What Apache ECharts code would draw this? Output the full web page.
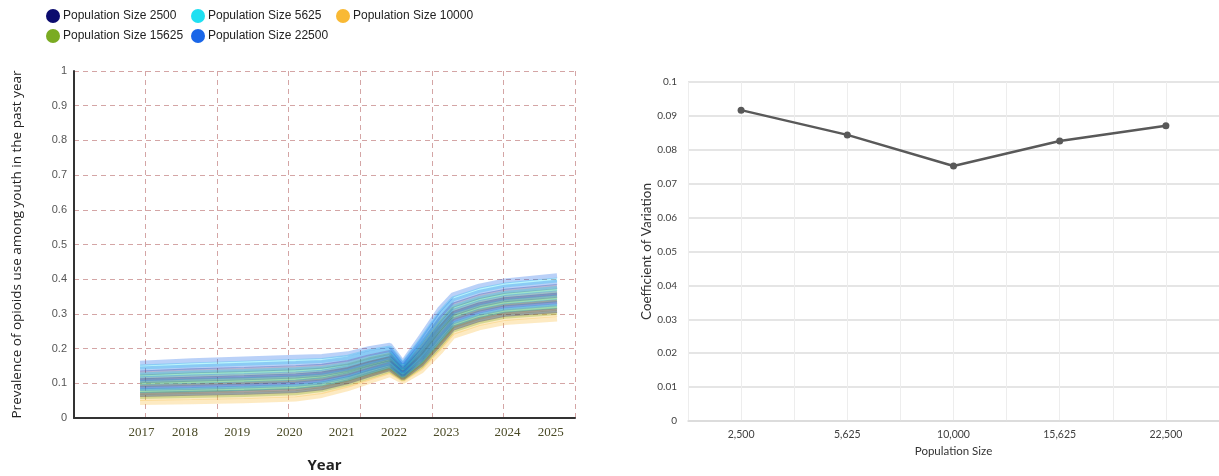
<!DOCTYPE html>
<html>
<head>
<meta charset="utf-8">
<script src="https://cdn.jsdelivr.net/npm/echarts@6/dist/echarts.min.js"></script>
<style>
html,body{margin:0;padding:0;background:#fff;}
#c{width:1219px;height:476px;}
</style>
</head>
<body>
<div id="c"></div>
<script>
// ---- Left chart: simulated prevalence runs ----
const times = [2017.14, 2018.13, 2019.13, 2020.12, 2020.62, 2021.12, 2021.52, 2021.92, 2022.17, 2022.52, 2022.88, 2023.13, 2023.63, 2024.12, 2025.12];
const yearLabelPos = [2017.17, 2018, 2019, 2020, 2021, 2022, 2023, 2024.17, 2025];
const yearLabels = ['2017','2018','2019','2020','2021','2022','2023','2024','2025'];

const runs10000 = [
  [0.104, 0.108, 0.112, 0.117, 0.123, 0.137, 0.155, 0.170, 0.134, 0.187, 0.256, 0.298, 0.323, 0.338, 0.351],
  [0.073, 0.077, 0.081, 0.085, 0.093, 0.110, 0.129, 0.146, 0.119, 0.160, 0.221, 0.265, 0.290, 0.305, 0.316],
  [0.056, 0.059, 0.062, 0.067, 0.076, 0.095, 0.115, 0.134, 0.111, 0.145, 0.203, 0.247, 0.272, 0.287, 0.298],
  [0.045, 0.047, 0.050, 0.055, 0.065, 0.085, 0.105, 0.125, 0.105, 0.135, 0.190, 0.235, 0.260, 0.275, 0.285]
];
const runs15625 = [
  [0.118, 0.124, 0.128, 0.133, 0.138, 0.150, 0.167, 0.180, 0.141, 0.200, 0.271, 0.313, 0.338, 0.353, 0.366],
  [0.096, 0.100, 0.104, 0.109, 0.115, 0.130, 0.148, 0.163, 0.130, 0.180, 0.246, 0.289, 0.314, 0.329, 0.341],
  [0.077, 0.080, 0.084, 0.089, 0.097, 0.113, 0.132, 0.149, 0.120, 0.163, 0.225, 0.268, 0.293, 0.308, 0.320],
  [0.062, 0.065, 0.068, 0.073, 0.082, 0.100, 0.119, 0.138, 0.113, 0.150, 0.209, 0.253, 0.278, 0.293, 0.304]
];
const runs2500 = [
  [0.130, 0.136, 0.140, 0.145, 0.149, 0.160, 0.176, 0.189, 0.146, 0.210, 0.284, 0.325, 0.350, 0.365, 0.379],
  [0.107, 0.112, 0.116, 0.121, 0.127, 0.140, 0.157, 0.172, 0.135, 0.190, 0.259, 0.301, 0.326, 0.341, 0.354],
  [0.090, 0.094, 0.098, 0.103, 0.110, 0.125, 0.143, 0.159, 0.127, 0.175, 0.240, 0.283, 0.308, 0.323, 0.335],
  [0.068, 0.071, 0.074, 0.079, 0.087, 0.105, 0.124, 0.142, 0.116, 0.155, 0.215, 0.259, 0.284, 0.299, 0.310]
];
const runs5625 = [
  [0.147, 0.153, 0.158, 0.163, 0.166, 0.175, 0.191, 0.202, 0.155, 0.225, 0.303, 0.343, 0.368, 0.383, 0.398],
  [0.124, 0.130, 0.134, 0.139, 0.143, 0.155, 0.172, 0.185, 0.144, 0.205, 0.278, 0.319, 0.344, 0.359, 0.373],
  [0.102, 0.106, 0.110, 0.115, 0.121, 0.135, 0.153, 0.168, 0.133, 0.185, 0.253, 0.295, 0.320, 0.335, 0.348],
  [0.079, 0.082, 0.086, 0.091, 0.099, 0.115, 0.134, 0.151, 0.122, 0.165, 0.228, 0.271, 0.296, 0.311, 0.323]
];
const runs22500 = [
  [0.158, 0.165, 0.170, 0.175, 0.177, 0.185, 0.200, 0.210, 0.160, 0.235, 0.315, 0.355, 0.380, 0.395, 0.410],
  [0.141, 0.147, 0.152, 0.157, 0.160, 0.170, 0.186, 0.197, 0.152, 0.220, 0.296, 0.337, 0.362, 0.377, 0.391],
  [0.113, 0.118, 0.122, 0.127, 0.132, 0.145, 0.162, 0.176, 0.138, 0.195, 0.265, 0.307, 0.332, 0.347, 0.360],
  [0.085, 0.088, 0.092, 0.097, 0.104, 0.120, 0.138, 0.155, 0.124, 0.170, 0.234, 0.277, 0.302, 0.317, 0.329]
];

const popNames = ['Population Size 2500','Population Size 5625','Population Size 10000','Population Size 15625','Population Size 22500'];
const popColors = ['#0b0b6e','#1fe0f2','#f9b934','#7aab22','#1a66e8'];
const popRuns = [runs2500, runs5625, runs10000, runs15625, runs22500];
const drawOrder = [2, 3, 0, 1, 4];

// ---- Right chart: coefficient of variation ----
const cvCategories = ['2,500','5,625','10,000','15,625','22,500'];
const cvValues = [0.0917, 0.0844, 0.0752, 0.0826, 0.0871];

const series = [];
drawOrder.forEach(function(p){
  popRuns[p].forEach(function(run){
    series.push({
      type: 'line', name: popNames[p], xAxisIndex: 0, yAxisIndex: 0,
      data: times.map(function(t, i){ return [t, run[i]]; }),
      showSymbol: false, silent: true,
      itemStyle: {color: popColors[p]},
      lineStyle: {color: popColors[p], width: 5, opacity: 0.3}
    });
  });
});
series.push({
  type: 'line', name: 'CV', xAxisIndex: 2, yAxisIndex: 1,
  data: cvValues,
  symbol: 'circle', symbolSize: 7,
  itemStyle: {color: '#595959'},
  lineStyle: {color: '#595959', width: 2.5}
});

// legend laid out as a grid: one legend component per item
const legendSlots = [[46, 9], [191, 9], [336, 9], [46, 29], [191, 29]];
const legends = popNames.map(function(n, i){
  return {
    left: legendSlots[i][0], top: legendSlots[i][1], padding: 0,
    icon: 'circle', itemWidth: 14, itemHeight: 14,
    textStyle: {fontFamily: 'Liberation Sans', fontSize: 12, color: '#222', padding: [0, 0, 0, -2]},
    data: [{name: n, itemStyle: {color: popColors[i], opacity: 1}}]
  };
});

const chart = echarts.init(document.getElementById('c'), null, {renderer: 'canvas'});
chart.setOption({
  animation: false,
  backgroundColor: '#fff',
  legend: legends,
  grid: [
    {left: 74, top: 71, width: 501, height: 347, outerBoundsMode: 'none', containLabel: false},
    {left: 688, top: 82, width: 531, height: 339, outerBoundsMode: 'none', containLabel: false}
  ],
  xAxis: [
    {
      gridIndex: 0, type: 'value', min: 2015.876, max: 2025.464,
      axisLine: {show: true, lineStyle: {color: '#333', width: 2}},
      axisTick: {show: false},
      splitLine: {show: false},
      axisLabel: {
        customValues: yearLabelPos, margin: 8,
        fontFamily: 'Liberation Serif', fontSize: 13, color: '#4a4a26',
        formatter: function(v){ return yearLabels[yearLabelPos.indexOf(v)] || ''; }
      },
      name: 'Year', nameLocation: 'middle', nameGap: 40,
      nameTextStyle: {fontFamily: 'Open Sans', fontSize: 15, fontWeight: 'bold', color: '#222'}
    },
    {
      gridIndex: 0, type: 'value', min: 0, max: 7, interval: 1, position: 'bottom',
      axisLine: {show: false}, axisTick: {show: false}, axisLabel: {show: false},
      splitLine: {show: true, lineStyle: {color: '#d4a5a5', type: [5, 4], width: 1}}
    },
    {
      gridIndex: 1, type: 'category', data: cvCategories, boundaryGap: true,
      axisLine: {show: true, lineStyle: {color: '#d9d9d9', width: 1.5}},
      axisTick: {show: false},
      splitLine: {show: false},
      axisLabel: {margin: 8, fontFamily: 'Lato', fontSize: 10.5, color: '#404040'},
      name: 'Population Size', nameLocation: 'middle', nameGap: 23,
      nameTextStyle: {fontFamily: 'Lato', fontSize: 11.5, color: '#333'}
    },
    {
      gridIndex: 1, type: 'value', min: 0, max: 10, interval: 1, position: 'bottom',
      axisLine: {show: false}, axisTick: {show: false}, axisLabel: {show: false},
      splitLine: {show: true, lineStyle: {color: '#ededed', width: 1}}
    }
  ],
  yAxis: [
    {
      gridIndex: 0, type: 'value', min: 0, max: 1, interval: 0.1,
      axisLine: {show: true, lineStyle: {color: '#333', width: 2}},
      axisTick: {show: false},
      splitLine: {show: true, lineStyle: {color: '#d4a5a5', type: [5, 4], width: 1}},
      axisLabel: {margin: 7, fontFamily: 'Liberation Sans', fontSize: 11, color: '#555'},
      name: 'Prevalence of opioids use among youth in the past year',
      nameLocation: 'middle', nameGap: 50,
      nameTextStyle: {fontFamily: 'Open Sans', fontSize: 13.5, color: '#222'}
    },
    {
      gridIndex: 1, type: 'value', min: 0, max: 0.1, interval: 0.01,
      axisLine: {show: false}, axisTick: {show: false},
      splitLine: {show: true, lineStyle: {color: '#dcdcdc', width: 1.5}},
      axisLabel: {margin: 11, fontFamily: 'Lato', fontSize: 10, color: '#404040'},
      name: 'Coefficient of Variation', nameLocation: 'middle', nameGap: 27,
      nameTextStyle: {fontFamily: 'Lato', fontSize: 13.5, color: '#333'}
    }
  ],
  series: series
});
</script>
</body>
</html>
